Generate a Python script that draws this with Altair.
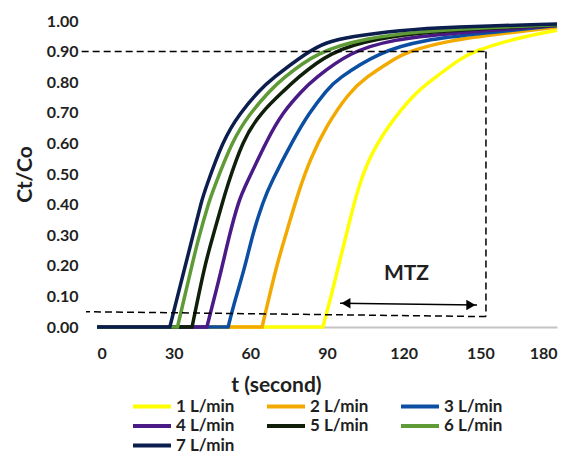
import altair as alt
import pandas as pd

names = ["1 L/min", "2 L/min", "3 L/min", "4 L/min", "5 L/min", "6 L/min", "7 L/min"]
colors = ["#FFFF00", "#F2A900", "#0B4EA2", "#4A1A86", "#0F1F0A", "#5E9A35", "#0C1E4E"]

t1 = [0, 88.4, 91.9, 95.1, 98.3, 101.6, 106, 113.5, 124.4, 131, 141.5, 147, 164, 180]
v1 = [0, 0, 0.11, 0.219, 0.327, 0.438, 0.546, 0.654, 0.765, 0.807, 0.873, 0.9, 0.944, 0.97]
t2 = [0, 64.6, 67.7, 70.9, 74.8, 78.7, 83.3, 89.5, 98.5, 105, 115.8, 121.3, 138, 157.7, 180]
v2 = [0, 0, 0.11, 0.219, 0.327, 0.438, 0.546, 0.654, 0.765, 0.815, 0.873, 0.9, 0.937, 0.958, 0.98]
t3 = [0, 51.3, 54, 57.9, 61, 65, 68, 76.7, 83, 90, 93.5, 110.7, 127.6, 151, 180]
v3 = [0, 0, 0.088, 0.196, 0.307, 0.41, 0.47, 0.611, 0.70, 0.775, 0.807, 0.9, 0.938, 0.96, 0.985]
t4 = [0, 43, 49, 51.3, 55.5, 58, 66.5, 72.5, 80.6, 84.5, 99, 116, 138, 180]
v4 = [0, 0, 0.196, 0.284, 0.415, 0.46, 0.611, 0.70, 0.775, 0.807, 0.9, 0.94, 0.96, 0.985]
t5 = [0, 37.2, 42, 44.9, 49.4, 50.5, 57, 64, 73.5, 77.5, 91, 109.6, 131.5, 155, 180]
v5 = [0, 0, 0.196, 0.284, 0.415, 0.448, 0.611, 0.70, 0.775, 0.807, 0.9, 0.944, 0.965, 0.978, 0.987]
t6 = [0, 31.5, 37, 39.5, 44, 45.5, 53, 60, 68, 72, 86, 105.6, 125, 150, 180]
v6 = [0, 0, 0.196, 0.284, 0.415, 0.448, 0.611, 0.70, 0.775, 0.807, 0.9, 0.944, 0.965, 0.978, 0.988]
t7 = [0, 28.5, 34.4, 37.3, 41, 42.3, 49.3, 56, 63.8, 67.8, 82.6, 89.5, 99, 118.6, 138, 180]
v7 = [0, 0, 0.196, 0.29, 0.415, 0.448, 0.611, 0.70, 0.775, 0.807, 0.9, 0.93, 0.949, 0.97, 0.981, 0.99]

x_ticks = [0, 30, 60, 90, 120, 150, 180]
y_ticks = [0, 0.1, 0.2, 0.3, 0.4, 0.5, 0.6, 0.7, 0.8, 0.9, 1.0]

# dashed guide segments (MTZ box)
g_x = [-6, 152.2, 152.2]
g_y = [0.9, 0.9, 0.034]
g_x2 = [152.2, 152.2, -4.3]
g_y2 = [0.9, 0.034, 0.05]

# arrow
arrow_x = [95.1]
arrow_y = [0.078]
arrow_x2 = [148.7]
arrow_y2 = [0.072]
head_x = [97.4, 146.3]
head_y = [0.078, 0.072]
head_shape = ["triangle-left", "triangle-right"]

label_text = ["MTZ"]
label_x = [121.1]
label_y = [0.172]

FONT = "Lato"
TXT = "#1f1f1f"

ts = [t1, t2, t3, t4, t5, t6, t7]
vs = [v1, v2, v3, v4, v5, v6, v7]
rows = []
for i, (tt, vv) in enumerate(zip(ts, vs)):
    pts = list(zip(tt, vv))
    # repeat the breakthrough point so the B-spline keeps a sharp corner there
    pts = pts[:2] + [pts[1], pts[1]] + pts[2:]
    for k, (a, b) in enumerate(pts):
        rows.append({"series": names[i], "k": k, "t": a, "c": b})
df = pd.DataFrame(rows)

xscale = alt.Scale(domain=[0, 180], nice=False)
yscale = alt.Scale(domain=[0, 1], nice=False)

xaxis = alt.Axis(values=x_ticks, title="t (second)", grid=False, ticks=False,
                 domain=True, domainColor="#C4C4C4", domainWidth=2,
                 labelFont=FONT, labelFontSize=16, labelFontWeight="bold",
                 labelColor=TXT, labelPadding=18, labelOverlap=False,
                 titleFont=FONT, titleFontSize=21, titleFontWeight="bold",
                 titleColor=TXT, titleX=179, titleY=64,
                 titleBaseline="alphabetic", titleAlign="center")
yaxis = alt.Axis(values=y_ticks, format=".2f", title="Ct/Co", grid=False,
                 ticks=False, domain=False, labelOverlap=False,
                 labelFont=FONT, labelFontSize=16, labelFontWeight="bold",
                 labelColor=TXT, labelPadding=19,
                 titleFont=FONT, titleFontSize=21, titleFontWeight="bold",
                 titleColor=TXT, titleX=-72, titleY=153, titleAngle=-90,
                 titleBaseline="middle", titleAlign="center")


def X(f):
    return alt.X(f, type="quantitative", scale=xscale, axis=xaxis)


def Y(f):
    return alt.Y(f, type="quantitative", scale=yscale, axis=yaxis)


lines = alt.Chart(df).mark_line(strokeWidth=3.5, interpolate="basis").encode(
    x=X("t"), y=Y("c"),
    color=alt.Color("series:N", scale=alt.Scale(domain=names, range=colors),
                    legend=alt.Legend(orient="none", legendX=34, legendY=376, columns=3,
                                      direction="horizontal",
                                      title=None, symbolType="stroke", symbolSize=1444,
                                      symbolStrokeWidth=4, clipHeight=19,
                                      labelFont=FONT, labelFontSize=17,
                                      labelFontWeight="bold", labelColor=TXT,
                                      labelOffset=3, columnPadding=30, rowPadding=0.5)),
    order=alt.Order("k:Q"),
)

gdf = pd.DataFrame({"x": g_x, "y": g_y, "x2": g_x2, "y2": g_y2})
guides = alt.Chart(gdf).mark_rule(color="black", strokeWidth=1.5, strokeDash=[7, 4]).encode(
    x=X("x"), y=Y("y"), x2="x2:Q", y2="y2:Q")

adf = pd.DataFrame({"x": arrow_x, "y": arrow_y, "x2": arrow_x2, "y2": arrow_y2})
arrow = alt.Chart(adf).mark_rule(color="black", strokeWidth=1.5).encode(
    x=X("x"), y=Y("y"), x2="x2:Q", y2="y2:Q")

hdf = pd.DataFrame({"x": head_x, "y": head_y, "shape": head_shape})
heads = alt.Chart(hdf).mark_point(filled=True, color="black", opacity=1, size=110).encode(
    x=X("x"), y=Y("y"),
    shape=alt.Shape("shape:N", scale=None, legend=None))

ldf = pd.DataFrame({"x": label_x, "y": label_y, "text": label_text})
label = alt.Chart(ldf).mark_text(font=FONT, fontSize=21, fontWeight="bold", color=TXT,
                                 baseline="middle", align="center").encode(
    x=X("x"), y=Y("y"), text="text:N")

chart = alt.layer(lines, guides, arrow, heads, label).properties(
    width=460, height=306,
    background="white",
    autosize=alt.AutoSizeParams(type="none"),
    padding={"left": 89, "top": 13, "right": 8, "bottom": 129},
).configure(view=alt.ViewConfig(stroke=None), axis=alt.AxisConfig(labelOverlap=False))

chart.save("out.html", embed_options={"renderer": "svg", "actions": False})
